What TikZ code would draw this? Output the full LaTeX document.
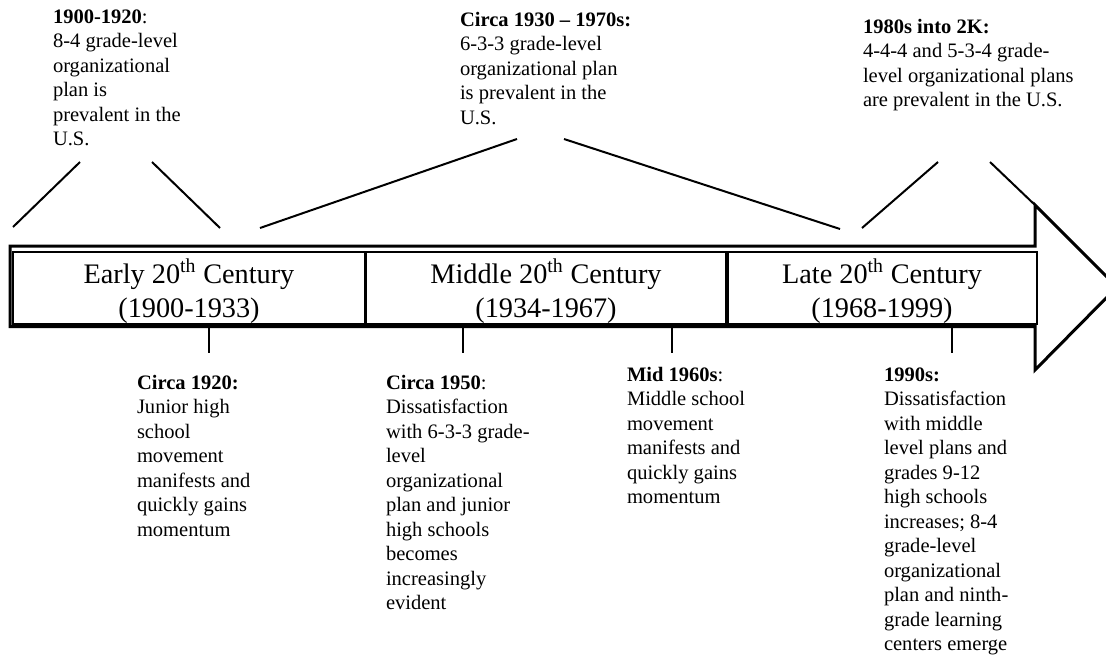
\documentclass[tikz,border=0pt]{standalone}
\usepackage{fontspec}
\setmainfont{Liberation Serif}
\tikzset{
  body/.style={anchor=base west, inner sep=0pt, outer sep=0pt, font=\fontsize{15.4}{18.4}\selectfont},
  ptitle/.style={anchor=base, inner sep=0pt, outer sep=0pt, font=\fontsize{21.2}{25.5}\selectfont},
  period/.style={draw, line width=1.5pt, inner sep=0pt, outer sep=0pt, anchor=north west, minimum height=54pt},
  conn/.style={line width=1.5pt},
  arrowline/.style={line width=2.25pt, line join=miter}
}
\begin{document}
\begin{tikzpicture}[x=0.75pt, y=-0.75pt]
\useasboundingbox (0,0) rectangle (1106,657);
\clip (0,0) rectangle (1106,657);
% big arrow
\draw[arrowline] (10,246) -- (1035,246) -- (1035,205) -- (1117,287) -- (1035,370) -- (1035,326.5) -- (10,326.5) -- cycle;
% period boxes
\node[period, minimum width=264pt] (b1) at (13,252) {};
\node[period, minimum width=270pt] (b2) at (366,252) {};
\node[period, minimum width=231.75pt] (b3) at (728,252) {};
\node[ptitle] (t1) at (189,283) {\begin{tabular}[t]{@{}c@{}}Early 20\textsuperscript{th} Century\\(1900-1933)\end{tabular}};
\node[ptitle] (t2) at (546,283) {\begin{tabular}[t]{@{}c@{}}Middle 20\textsuperscript{th} Century\\(1934-1967)\end{tabular}};
\node[ptitle] (t3) at (882,283) {\begin{tabular}[t]{@{}c@{}}Late 20\textsuperscript{th} Century\\(1968-1999)\end{tabular}};
% top texts
\node[body] (A) at (53,23) {\begin{tabular}[t]{@{}l@{}}\textbf{1900-1920}:\\8-4 grade-level\\organizational\\plan is\\prevalent in the\\U.S.\end{tabular}};
\node[body] (B) at (460,26) {\begin{tabular}[t]{@{}l@{}}\textbf{Circa 1930 – 1970s:}\\6-3-3 grade-level\\organizational plan\\is prevalent in the\\U.S.\end{tabular}};
\node[body] (C) at (863,33) {\begin{tabular}[t]{@{}l@{}}\textbf{1980s into 2K:}\\4-4-4 and 5-3-4 grade-\\level organizational plans\\are prevalent in the U.S.\end{tabular}};
% bottom texts
\node[body] (D) at (137,389) {\begin{tabular}[t]{@{}l@{}}\textbf{Circa 1920:}\\Junior high\\school\\movement\\manifests and\\quickly gains\\momentum\end{tabular}};
\node[body] (E) at (386,389) {\begin{tabular}[t]{@{}l@{}}\textbf{Circa 1950}:\\Dissatisfaction\\with 6-3-3 grade-\\level\\organizational\\plan and junior\\high schools\\becomes\\increasingly\\evident\end{tabular}};
\node[body] (F) at (627,381) {\begin{tabular}[t]{@{}l@{}}\textbf{Mid 1960s}:\\Middle school\\movement\\manifests and\\quickly gains\\momentum\end{tabular}};
\node[body] (G) at (884,381) {\begin{tabular}[t]{@{}l@{}}\textbf{1990s:}\\Dissatisfaction\\with middle\\level plans and\\grades 9-12\\high schools\\increases; 8-4\\grade-level\\organizational\\plan and ninth-\\grade learning\\centers emerge\end{tabular}};
% ticks
\coordinate (k1a) at (209,328); \coordinate (k1b) at (209,353);
\coordinate (k2a) at (463,328); \coordinate (k2b) at (463,353);
\coordinate (k3a) at (672,328); \coordinate (k3b) at (672,353);
\coordinate (k4a) at (952,328); \coordinate (k4b) at (952,353);
\draw[conn] (k1a) -- (k1b);
\draw[conn] (k2a) -- (k2b);
\draw[conn] (k3a) -- (k3b);
\draw[conn] (k4a) -- (k4b);
% diagonal leaders
\coordinate (l1a) at (13,227);  \coordinate (l1b) at (80,162);
\coordinate (l2a) at (152,162); \coordinate (l2b) at (220,228);
\coordinate (l3a) at (260,228); \coordinate (l3b) at (517,139);
\coordinate (l4a) at (564,139); \coordinate (l4b) at (840,229);
\coordinate (l5a) at (862,228); \coordinate (l5b) at (938,162);
\coordinate (l6a) at (990,162); \coordinate (l6b) at (1035,205);
\draw[conn] (l1a) -- (l1b);
\draw[conn] (l2a) -- (l2b);
\draw[conn] (l3a) -- (l3b);
\draw[conn] (l4a) -- (l4b);
\draw[conn] (l5a) -- (l5b);
\draw[conn] (l6a) -- (l6b);
\end{tikzpicture}
\end{document}
